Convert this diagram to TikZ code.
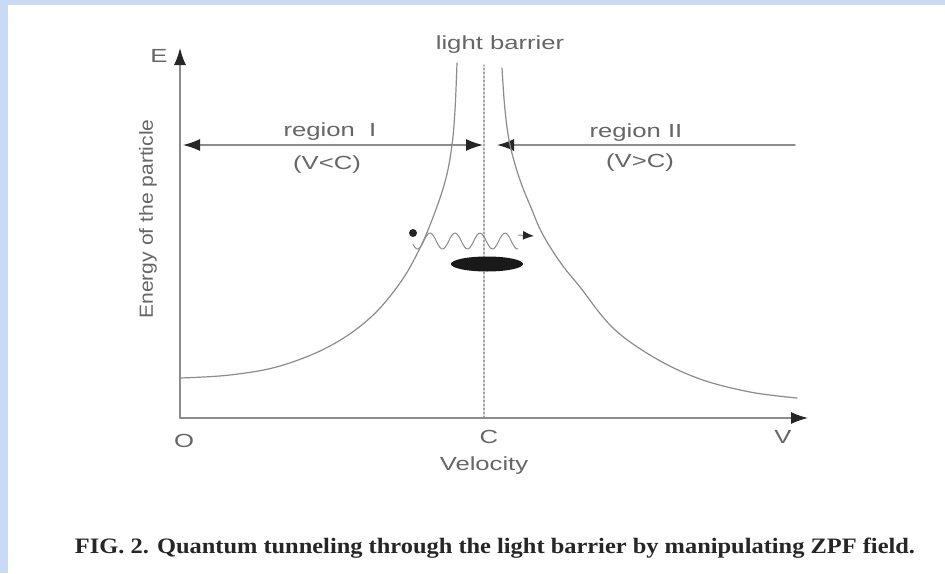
\documentclass[tikz,border=0pt]{standalone}
\usepackage{fontspec}
\setmainfont{Liberation Serif}
\setsansfont{Liberation Sans}
\usetikzlibrary{arrows.meta}
\definecolor{bgblue}{RGB}{200,218,245}

\begin{document}
\begin{tikzpicture}[x=1pt,y=-1pt,line join=round,line cap=round,
	>={Latex[length=17pt,width=12pt,color=black!85]},
	ln/.style={draw=black!45,line width=1.4pt},
	lbl/.style={text=black!60,font=\sffamily\fontsize{19}{19}\selectfont,inner sep=0pt,xscale=1.35}]
	% Nền
	\useasboundingbox (0,0) rectangle (945,573);
	\fill[bgblue] (0,0) rectangle (945,573);
	\fill[white] (8,5) rectangle (945,573);
	% Trục
	\coordinate (O) at (180,418);
	\coordinate (Etop) at (180,48);
	\coordinate (Vend) at (808,418);
	\coordinate (C) at (484,418);
	\coordinate (Ctop) at (484,65);
	\draw[black!35,line width=1.3pt,dash pattern=on 2pt off 2pt](C)--(Ctop);
	\draw[ln,->](O)--(Etop);
	\draw[ln,->](O)--(Vend);
	% Vùng I, II
	\coordinate (Ia) at (183,145);
	\coordinate (Ib) at (483,145);
	\coordinate (IIa) at (497,145);
	\coordinate (IIb) at (795,145);
	\draw[ln,<->](Ia)--(Ib);
	\draw[ln,<-](IIa)--(IIb);
	% Đường cong
	\draw[ln,line width=1.2pt] plot[smooth,tension=0.6] coordinates {(180,378) (230,375) (280,366) (330,346) (370,318) (400,283) (420,248) (435,212) (446,178) (452,145) (455,110) (457,63)};
	\draw[ln,line width=1.2pt] plot[smooth,tension=0.6] coordinates {(502,68) (505,110) (510,145) (520,180) (532,210) (542,233) (560,262) (580,287) (613,328) (655,358) (700,379) (750,392) (797,398)};
	% Hạt
	\coordinate (P) at (413,233);
	\coordinate (Q) at (534,236);
	\fill[black!85] (P) circle (4);
	\draw[black!45,line width=1pt] plot[smooth,domain=413:518,samples=60] (\x,{241-8*cos(14.4*(\x-430))});
	\draw[black!45,line width=1pt,-{Latex[length=11pt,width=9pt,color=black!85]}] (518,235)--(Q);
	\fill[black!90] (487,264) ellipse (36 and 7.5);
	% Nhãn
	\node[lbl] (lb) at (500,45) {light barrier};
	\node[lbl] (eE) at (159,56) {E};
	\node[lbl] (r1) at (330,132) {region\ \ I};
	\node[lbl] (v1) at (327,165) {(V<C)};
	\node[lbl] (r2) at (636,133) {region II};
	\node[lbl] (v2) at (640,163) {(V>C)};
	\node[lbl] (o) at (184,441) {O};
	\node[lbl] (c) at (489,437) {C};
	\node[lbl] (v) at (783,437) {V};
	\node[lbl] (vel) at (484,466) {Velocity};
	\node[text=black!60,font=\sffamily\fontsize{19}{19}\selectfont,inner sep=0pt,rotate=90,xscale=1.11] (en) at (148,219) {Energy of the particle};
	\node[text=black!85,font=\bfseries\fontsize{22}{22}\selectfont,inner sep=0pt,xscale=1.11] (cap) at (495,548) {FIG. 2. Quantum tunneling through the light barrier by manipulating ZPF field.};
\end{tikzpicture}
\end{document}
